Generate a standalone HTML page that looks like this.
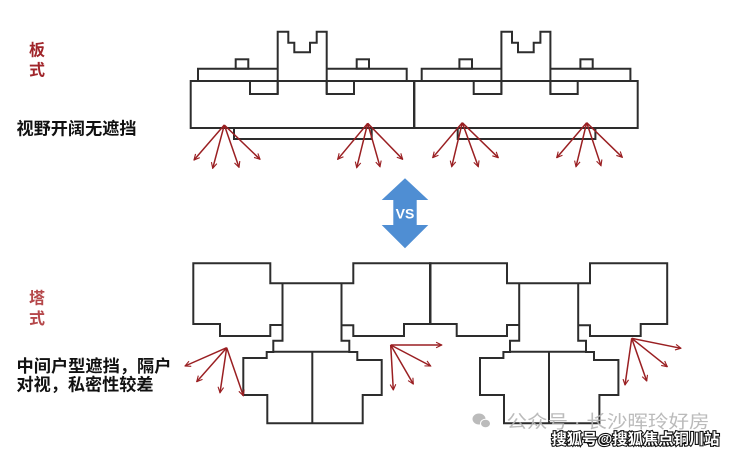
<!DOCTYPE html>
<html>
<head>
<meta charset="utf-8">
<style>
html,body{margin:0;padding:0;background:#fff;}
body{width:736px;height:454px;overflow:hidden;}
svg{display:block;}
text{font-family:"Liberation Sans","Noto Sans CJK SC",sans-serif;}
</style>
</head>
<body>
<svg width="736" height="454" viewBox="0 0 736 454" xmlns="http://www.w3.org/2000/svg">
<defs>
<marker id="ah" viewBox="0 0 10 10" refX="9" refY="5" markerWidth="7" markerHeight="7" orient="auto" markerUnits="userSpaceOnUse">
<path d="M1,1 L9,5 L1,9" fill="none" stroke="#9a1f22" stroke-width="1.6"/>
</marker>
<g id="slab" fill="none" stroke="#2d2d2d" stroke-width="2">
<rect x="190.7" y="81" width="223.3" height="47"/>
<path d="M198,81 V68.7 H277.7 M326.7,68.7 H406.7 V81"/>
<rect x="235.7" y="59.3" width="12.6" height="9.4"/>
<rect x="356.7" y="59.3" width="12.3" height="9.4"/>
<path d="M277.7,94 V31.7 H288.3 V42.7 H294.3 V52.3 H310 V42.7 H316.7 V31.7 H326.7 V94"/>
<rect x="250" y="81" width="27.7" height="13"/>
<rect x="326.7" y="81" width="27.3" height="13"/>
<path d="M234,128 V139 H371.7 V128"/>
</g>
<g id="tower" fill="none" stroke="#2d2d2d" stroke-width="2">
<path d="M282.5,325 H270.3 V336 H220 V324 H193.3 V263.3 H270.3 V283.3 H353.3 V263.3 H430.5 V324 H404 V336 H353.3 V325.3 H341.5"/>
<path d="M282.5,283.3 V340.7 H273.3 V352 H266.7 V358 H243.3 V395 H267.3 V423.3 H362.7 V395 H381.7 V360 H357.3 V352 H349.3 V340.7 H341.5 V283.3"/>
<path d="M273.3,351.7 H349.3"/>
<path d="M312.3,351.7 V423.3"/>
</g>
</defs>

<use href="#slab"/>
<use href="#slab" x="223.7"/>
<use href="#tower"/>
<use href="#tower" x="236.7"/>

<g stroke="#9a1f22" stroke-width="1.5" marker-end="url(#ah)">
<line x1="224.3" y1="125" x2="194" y2="160"/>
<line x1="224.3" y1="125" x2="212.7" y2="168.3"/>
<line x1="224.3" y1="125" x2="239" y2="167.3"/>
<line x1="224.3" y1="125" x2="260" y2="159.3"/>
<line x1="367.7" y1="123.3" x2="337.7" y2="159.3"/>
<line x1="367.7" y1="123.3" x2="356.7" y2="167.7"/>
<line x1="367.7" y1="123.3" x2="380" y2="166.7"/>
<line x1="367.7" y1="123.3" x2="402.7" y2="159.3"/>
<line x1="462.3" y1="122.7" x2="432.7" y2="157.7"/>
<line x1="462.3" y1="122.7" x2="451.7" y2="166.7"/>
<line x1="462.3" y1="122.7" x2="478.3" y2="166.7"/>
<line x1="462.3" y1="122.7" x2="498.3" y2="157.7"/>
<line x1="586.7" y1="122.7" x2="556.7" y2="157.7"/>
<line x1="586.7" y1="122.7" x2="576" y2="166.7"/>
<line x1="586.7" y1="122.7" x2="601" y2="165.7"/>
<line x1="586.7" y1="122.7" x2="622.3" y2="157.3"/>

<line x1="226.7" y1="347.7" x2="185" y2="366"/>
<line x1="226.7" y1="347.7" x2="196.7" y2="381.7"/>
<line x1="226.7" y1="347.7" x2="220" y2="392.7"/>
<line x1="226.7" y1="347.7" x2="243.3" y2="395.7"/>
<line x1="390.7" y1="345" x2="441.7" y2="345"/>
<line x1="390.7" y1="345" x2="430.7" y2="366"/>
<line x1="390.7" y1="345" x2="413.3" y2="384"/>
<line x1="390.7" y1="345" x2="393.3" y2="390"/>
<line x1="631.7" y1="338.3" x2="681" y2="348.3"/>
<line x1="631.7" y1="338.3" x2="667.3" y2="366.7"/>
<line x1="631.7" y1="338.3" x2="646.7" y2="381"/>
<line x1="631.7" y1="338.3" x2="625" y2="385"/>
</g>

<!-- VS arrow -->
<polygon points="405,178.3 428.3,200 416.7,200 416.7,225 428.3,225 405,248.3 381.7,225 393.3,225 393.3,200 381.7,200" fill="#4f8ed3"/>
<text x="405" y="218.5" text-anchor="middle" font-size="14" font-weight="bold" fill="#fff">VS</text>

<!-- labels -->
<g font-weight="bold">
<text x="29" y="55.5" font-size="16" fill="#a0252a">板</text>
<text x="29" y="75.5" font-size="16" fill="#a0252a">式</text>
<text x="16.5" y="134.5" font-size="17" fill="#111" textLength="120" lengthAdjust="spacingAndGlyphs">视野开阔无遮挡</text>
<text x="29" y="303.5" font-size="16" fill="#b5474a">塔</text>
<text x="29" y="324" font-size="16" fill="#b5474a">式</text>
<text x="16.5" y="372" font-size="17" fill="#111" textLength="155" lengthAdjust="spacingAndGlyphs">中间户型遮挡，隔户</text>
<text x="16.5" y="390.5" font-size="17" fill="#111" textLength="137" lengthAdjust="spacingAndGlyphs">对视，私密性较差</text>
</g>

<!-- watermark -->
<g fill="#b4b4b4" opacity="0.9">
<ellipse cx="479" cy="419" rx="6.5" ry="5.5"/>
<ellipse cx="485.5" cy="423.5" rx="5" ry="4.3" stroke="#fff" stroke-width="1"/>
</g>
<text x="506.5" y="428" font-size="18" fill="#b4b4b4" fill-opacity="0.9" textLength="203" lengthAdjust="spacingAndGlyphs">公众号 · 长沙晖玲好房</text>
<text x="551.5" y="444" font-size="15" font-weight="bold" fill="#fff" stroke="#111" stroke-width="2.2" paint-order="stroke" textLength="168" lengthAdjust="spacingAndGlyphs">搜狐号@搜狐焦点铜川站</text>
</svg>
</body>
</html>
